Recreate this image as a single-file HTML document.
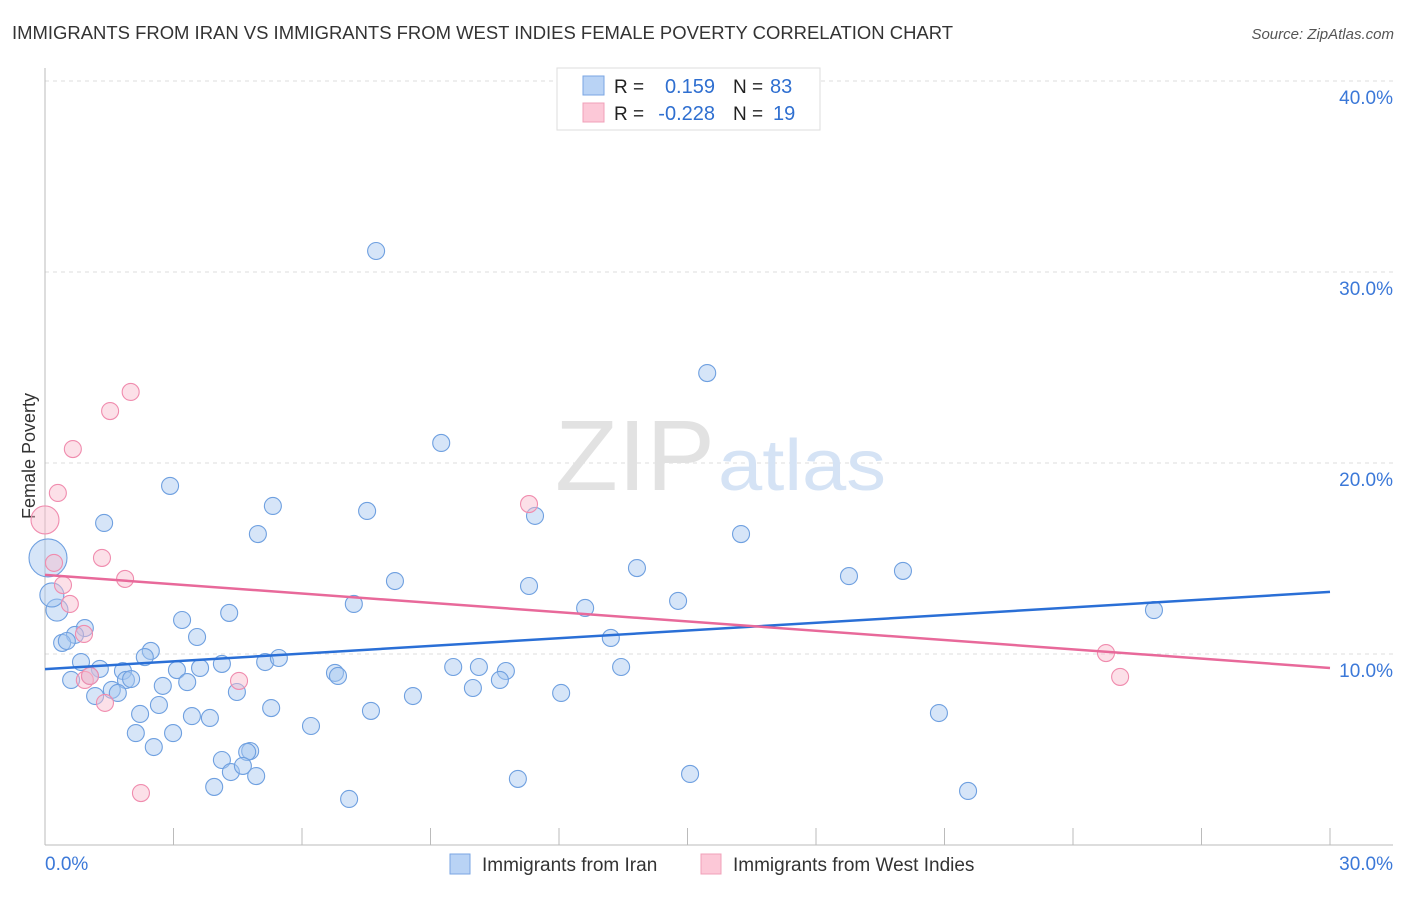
<!DOCTYPE html>
<html><head><meta charset="utf-8"><style>
body{margin:0;background:#fff;font-family:"Liberation Sans",sans-serif;}
svg text{font-family:"Liberation Sans",sans-serif;}
</style></head><body>
<svg id="chart" width="1406" height="892" xmlns="http://www.w3.org/2000/svg">
<text x="12" y="39" font-size="18" fill="#333" textLength="941" lengthAdjust="spacingAndGlyphs">IMMIGRANTS FROM IRAN VS IMMIGRANTS FROM WEST INDIES FEMALE POVERTY CORRELATION CHART</text>
<text x="1394" y="39" font-size="15" fill="#555" font-style="italic" text-anchor="end">Source: ZipAtlas.com</text>
<text x="35" y="456" font-size="18" fill="#333" text-anchor="middle" transform="rotate(-90 35 456)">Female Poverty</text>
<g id="grid"></g>
<text x="715" y="490" font-size="100" fill="#e2e2e2" text-anchor="end" font-family="Liberation Serif" textLength="160" lengthAdjust="spacingAndGlyphs">ZIP</text>
<text x="718" y="490" font-size="72" fill="#d5e3f5" textLength="168" lengthAdjust="spacingAndGlyphs">atlas</text>
<g id="points"></g>
<g id="lines"></g>
<g>
<rect x="557" y="68" width="263" height="62" fill="#fff" stroke="#ddd"/>
<rect x="583" y="76" width="21" height="19" fill="#b9d3f5" stroke="#7aa6e3"/>
<rect x="583" y="103" width="21" height="19" fill="#fcc8d7" stroke="#f0a0b8"/>
<text x="614" y="93" font-size="19" fill="#222">R =</text>
<text x="715" y="93" font-size="20" fill="#2f6fd0" text-anchor="end">0.159</text>
<text x="733" y="93" font-size="19" fill="#222">N =</text>
<text x="770" y="93" font-size="20" fill="#2f6fd0">83</text>
<text x="614" y="120" font-size="19" fill="#222">R =</text>
<text x="715" y="120" font-size="20" fill="#2f6fd0" text-anchor="end">-0.228</text>
<text x="733" y="120" font-size="19" fill="#222">N =</text>
<text x="773" y="120" font-size="20" fill="#2f6fd0">19</text>
</g>
<g>
<rect x="450" y="854" width="20" height="20" fill="#b9d3f5" stroke="#7aa6e3"/>
<text x="482" y="871" font-size="19" fill="#333">Immigrants from Iran</text>
<rect x="701" y="854" width="20" height="20" fill="#fcc8d7" stroke="#f0a0b8"/>
<text x="733" y="871" font-size="19" fill="#333">Immigrants from West Indies</text>
</g>
</svg>
<script>
const yTicks=[10,20,30,40];
const yTickLabels=["10.0%","20.0%","30.0%","40.0%"];
const xTickLabels=["0.0%","30.0%"];
const iranX=[7.73,15.46,9.25,2.92,5.32,7.52,11.44,1.38,4.97,16.25,13.82,18.77,20.03,8.17,11.30,7.21,12.61,14.78,25.89,0.28,0.16,0.07,3.20,4.30,3.55,0.93,0.70,0.40,0.51,13.21,2.47,2.33,0.84,1.28,1.82,3.08,3.62,4.13,5.14,5.46,6.77,6.84,9.53,10.13,10.76,13.45,0.61,1.05,1.89,2.01,2.75,3.32,9.99,10.62,1.56,1.70,1.17,4.48,8.59,12.05,2.66,5.28,2.22,3.43,3.85,7.61,20.87,2.12,2.99,6.21,2.54,4.79,4.72,4.13,4.34,4.62,4.93,3.95,11.04,15.06,7.10,21.55];
const iranY=[31.10,24.71,21.05,18.80,17.75,17.49,17.23,16.86,16.28,16.28,14.50,14.08,14.35,13.82,13.56,12.62,12.41,12.78,12.30,12.30,13.09,15.03,11.78,12.15,10.89,11.36,11.00,10.58,10.68,10.84,10.16,9.84,9.58,9.22,9.11,9.16,9.27,9.48,9.58,9.79,9.01,8.85,9.32,9.32,9.11,9.32,8.64,8.85,8.64,8.69,8.33,8.53,8.22,8.64,8.12,7.96,7.80,8.01,7.80,7.96,7.33,7.17,6.86,6.75,6.65,7.02,6.91,5.86,5.86,6.23,5.13,4.92,4.87,4.45,3.82,4.14,3.61,3.04,3.46,3.72,2.41,2.83];
const iranR=[8.5,8.5,8.5,8.5,8.5,8.5,8.5,8.5,8.5,8.5,8.5,8.5,8.5,8.5,8.5,8.5,8.5,8.5,8.5,11,12,19];
const wiX=[2.00,1.52,0.65,0.30,0,11.30,1.33,0.21,1.87,0.42,0.58,0.91,0.93,1.05,1.40,4.53,2.24,24.77,25.10];
const wiY=[23.72,22.72,20.73,18.43,17.02,17.85,15.03,14.77,13.93,13.61,12.62,11.05,8.64,8.85,7.44,8.59,2.72,10.05,8.80];
const wiR=[8.5,8.5,8.5,8.5,14];
const iranTrend=[9.21,13.25];
const wiTrend=[14.14,9.27];
const xDomain=[0,30];
const NS="http://www.w3.org/2000/svg";
const X=v=>45+(v-xDomain[0])/(xDomain[1]-xDomain[0])*1285;
const Y=v=>845-v*19.1;
function mk(tag,attrs,parent){const e=document.createElementNS(NS,tag);for(const k in attrs)e.setAttribute(k,attrs[k]);parent.appendChild(e);return e;}
const svg=document.getElementById('chart'),grid=document.getElementById('grid');
yTicks.forEach((t,i)=>{
 const l=mk('line',{x1:45,x2:1393,y1:Y(t),y2:Y(t),stroke:'#ddd','stroke-dasharray':'4,4'},grid);
 
 
 const tx=mk('text',{x:1393,y:Y(t)+23,'font-size':19,fill:'#3b78d8','text-anchor':'end'},grid);
 tx.textContent=yTickLabels[i];
 
 
});
const ax=mk('line',{x1:45,x2:45,y1:68,y2:845,stroke:'#bbb'},grid);


const bx=mk('line',{x1:45,x2:1393,y1:845,y2:845,stroke:'#bbb'},grid);


for(let v=3;v<=30;v+=3){
 const t=mk('line',{x1:X(v),x2:X(v),y1:828,y2:845,stroke:'#bbb'},grid);
 
 
}
[[0,'start',45],[30,'end',1393]].forEach((d,i)=>{
 const tx=mk('text',{x:d[2],y:870,'font-size':19,fill:'#3b78d8','text-anchor':d[1]},grid);
 tx.textContent=xTickLabels[i];
 
 
});
const pts=document.getElementById('points');
iranX.forEach((x,i)=>{
 const c=mk('circle',{cx:X(x),cy:Y(iranY[i]),r:iranR[i]||8.5,fill:'rgba(165,198,240,0.45)',stroke:'#6fa0e0','stroke-width':1.1},pts);
 
 
});
wiX.forEach((x,i)=>{
 const c=mk('circle',{cx:X(x),cy:Y(wiY[i]),r:wiR[i]||8.5,fill:'rgba(248,186,205,0.45)',stroke:'#f08cae','stroke-width':1.1},pts);
 
 
});
const lines=document.getElementById('lines');
const l1=mk('line',{x1:X(xDomain[0]),x2:X(xDomain[1]),y1:Y(iranTrend[0]),y2:Y(iranTrend[1]),stroke:'#2a6fd6','stroke-width':2.5},lines);


const l2=mk('line',{x1:X(xDomain[0]),x2:X(xDomain[1]),y1:Y(wiTrend[0]),y2:Y(wiTrend[1]),stroke:'#e8699a','stroke-width':2.5},lines);


</script>
</body></html>
